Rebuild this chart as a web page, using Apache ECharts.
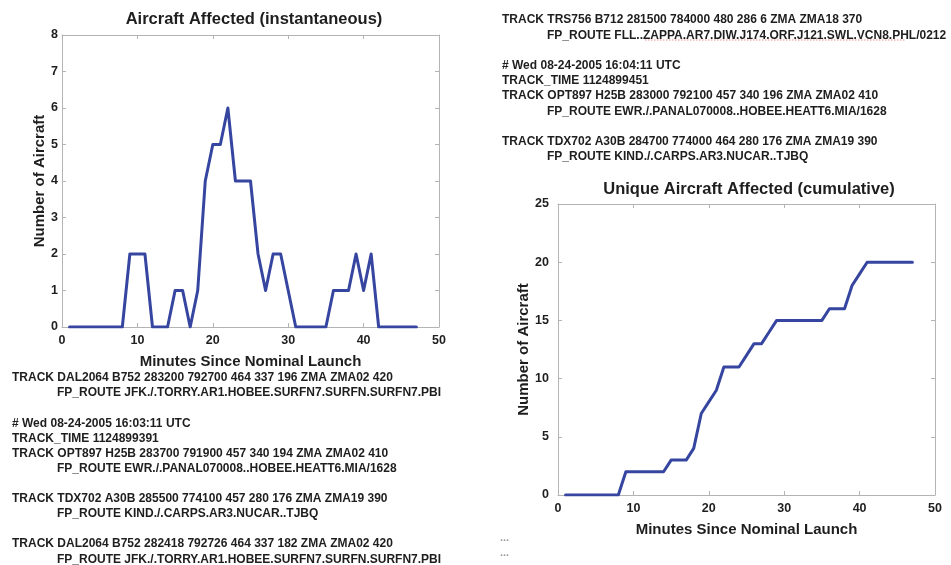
<!DOCTYPE html>
<html>
<head>
<meta charset="utf-8">
<title>Aircraft Affected</title>
<script src="https://cdn.jsdelivr.net/npm/echarts@6/dist/echarts.min.js"></script>
<style>
  html, body { margin: 0; padding: 0; background: #ffffff; }
  #chart { width: 951px; height: 565px; }
</style>
</head>
<body>
<div id="chart"></div>
<script>
// Minutes since nominal launch (sample times)
const minutes = [1, 2, 3, 4, 5, 6, 7, 8, 9, 10, 11, 12, 13, 14, 15, 16, 17, 18, 19, 20,
  21, 22, 23, 24, 25, 26, 27, 28, 29, 30, 31, 32, 33, 34, 35, 36, 37, 38, 39, 40,
  41, 42, 43, 44, 45, 46, 47];

// Aircraft inside the hazard area at each minute
const instantaneous = [0, 0, 0, 0, 0, 0, 0, 0, 2, 2, 2, 0, 0, 0, 1, 1, 0, 1, 4, 5,
  5, 6, 4, 4, 4, 2, 1, 2, 2, 1, 0, 0, 0, 0, 0, 1, 1, 1, 2, 1,
  2, 0, 0, 0, 0, 0, 0];

// Running count of distinct aircraft affected
const cumulative = [0, 0, 0, 0, 0, 0, 0, 0, 2, 2, 2, 2, 2, 2, 3, 3, 3, 4, 7, 8,
  9, 11, 11, 11, 12, 13, 13, 14, 15, 15, 15, 15, 15, 15, 15, 16, 16, 16, 18, 19,
  20, 20, 20, 20, 20, 20, 20];

// Axis tick values
const xTicks = [0, 10, 20, 30, 40, 50];
const yTicksInstant = [0, 1, 2, 3, 4, 5, 6, 7, 8];
const yTicksCumulative = [0, 5, 10, 15, 20, 25];

// Track log excerpts: [text, indented]
const logLeft = [
  ['TRACK DAL2064 B752 283200 792700 464 337 196 ZMA ZMA02 420', 0],
  ['FP_ROUTE JFK./.TORRY.AR1.HOBEE.SURFN7.SURFN.SURFN7.PBI', 1],
  null,
  ['# Wed 08-24-2005 16:03:11 UTC', 0],
  ['TRACK_TIME 1124899391', 0],
  ['TRACK OPT897 H25B 283700 791900 457 340 194 ZMA ZMA02 410', 0],
  ['FP_ROUTE EWR./.PANAL070008..HOBEE.HEATT6.MIA/1628', 1],
  null,
  ['TRACK TDX702 A30B 285500 774100 457 280 176 ZMA ZMA19 390', 0],
  ['FP_ROUTE KIND./.CARPS.AR3.NUCAR..TJBQ', 1],
  null,
  ['TRACK DAL2064 B752 282418 792726 464 337 182 ZMA ZMA02 420', 0],
  ['FP_ROUTE JFK./.TORRY.AR1.HOBEE.SURFN7.SURFN.SURFN7.PBI', 1]
];
const logRight = [
  ['TRACK TRS756 B712 281500 784000 480 286 6 ZMA ZMA18 370', 0],
  ['FP_ROUTE FLL..ZAPPA.AR7.DIW.J174.ORF.J121.SWL.VCN8.PHL/0212', 1],
  null,
  ['# Wed 08-24-2005 16:04:11 UTC', 0],
  ['TRACK_TIME 1124899451', 0],
  ['TRACK OPT897 H25B 283000 792100 457 340 196 ZMA ZMA02 410', 0],
  ['FP_ROUTE EWR./.PANAL070008..HOBEE.HEATT6.MIA/1628', 1],
  null,
  ['TRACK TDX702 A30B 284700 774000 464 280 176 ZMA ZMA19 390', 0],
  ['FP_ROUTE KIND./.CARPS.AR3.NUCAR..TJBQ', 1]
];

const FONT = 'Liberation Sans, Arial, Helvetica, sans-serif';
const LINE_COLOR = '#3646a0';
const BOX_COLOR = '#b4b4b4';
const TEXT_COLOR = '#1e1e1e';

function pairs(xs, ys) { return xs.map((x, i) => [x, ys[i]]); }

function logGraphics(lines, x0, indent, y0, step) {
  const out = [];
  lines.forEach((ln, i) => {
    if (!ln) return;
    out.push({
      type: 'text',
      silent: true,
      style: {
        text: ln[0],
        x: x0 + ln[1] * indent,
        y: y0 + i * step,
        font: 'bold 12px ' + FONT,
        fill: TEXT_COLOR,
        textVerticalAlign: 'middle',
        verticalAlign: 'middle'
      }
    });
  });
  return out;
}

function xAxisPair(gridIndex, labelMargin) {
  const base = {
    gridIndex: gridIndex,
    type: 'value',
    min: xTicks[0],
    max: xTicks[xTicks.length - 1],
    interval: xTicks[1] - xTicks[0],
    splitLine: { show: false },
    axisLine: { show: true, onZero: false, lineStyle: { color: BOX_COLOR, width: 1 } },
    axisTick: { show: true, inside: true, length: 4, lineStyle: { color: BOX_COLOR } }
  };
  return [
    Object.assign({}, base, {
      position: 'bottom',
      name: 'Minutes Since Nominal Launch',
      nameLocation: 'middle',
      nameGap: 27,
      nameTextStyle: { fontFamily: FONT, fontWeight: 'bold', fontSize: 15, color: TEXT_COLOR },
      axisLabel: { margin: labelMargin, fontFamily: FONT, fontWeight: 'bold', fontSize: 12.5, color: TEXT_COLOR }
    }),
    Object.assign({}, base, { position: 'top', axisLabel: { show: false } })
  ];
}

function yAxisPair(gridIndex, ticks, labelMargin, nameGap) {
  const base = {
    gridIndex: gridIndex,
    type: 'value',
    min: ticks[0],
    max: ticks[ticks.length - 1],
    interval: ticks[1] - ticks[0],
    splitLine: { show: false },
    axisLine: { show: true, onZero: false, lineStyle: { color: BOX_COLOR, width: 1 } },
    axisTick: { show: true, inside: true, length: 4, lineStyle: { color: BOX_COLOR } }
  };
  return [
    Object.assign({}, base, {
      position: 'left',
      name: 'Number of Aircraft',
      nameLocation: 'middle',
      nameGap: nameGap,
      nameTextStyle: { fontFamily: FONT, fontWeight: 'bold', fontSize: 15, color: TEXT_COLOR },
      axisLabel: { margin: labelMargin, fontFamily: FONT, fontWeight: 'bold', fontSize: 12.5, color: TEXT_COLOR }
    }),
    Object.assign({}, base, { position: 'right', axisLabel: { show: false } })
  ];
}

const chart = echarts.init(document.getElementById('chart'), null, { renderer: 'canvas' });

const graphics = []
  .concat(logGraphics(logLeft, 12, 45, 378, 15.1))
  .concat(logGraphics(logRight, 502, 45, 20, 15.2))
  .concat([
    // spell-check underline in the route string
    {
      type: 'line', silent: true,
      shape: { x1: 645, y1: 40, x2: 905, y2: 40 },
      style: { stroke: 'rgba(220,70,70,0.6)', lineWidth: 1, lineDash: [1.5, 1.5] }
    },
    {
      type: 'text', silent: true,
      style: { text: '...', x: 500, y: 538, font: 'bold 11px ' + FONT, fill: '#9a9a9a',
        textVerticalAlign: 'middle', verticalAlign: 'middle' }
    },
    {
      type: 'text', silent: true,
      style: { text: '...', x: 500, y: 553, font: 'bold 11px ' + FONT, fill: '#9a9a9a',
        textVerticalAlign: 'middle', verticalAlign: 'middle' }
    }
  ]);

chart.setOption({
  animation: false,
  backgroundColor: '#ffffff',
  title: [
    {
      text: 'Aircraft Affected (instantaneous)',
      left: 249, top: 6, textAlign: 'center',
      textStyle: { fontFamily: FONT, fontWeight: 'bold', fontSize: 16.5, color: TEXT_COLOR }
    },
    {
      text: 'Unique Aircraft Affected (cumulative)',
      left: 744, top: 176, textAlign: 'center',
      textStyle: { fontFamily: FONT, fontWeight: 'bold', fontSize: 16.5, color: TEXT_COLOR }
    }
  ],
  grid: [
    { left: 62, top: 35, width: 377, height: 292, show: false },
    { left: 558, top: 204, width: 377, height: 291, show: false }
  ],
  xAxis: xAxisPair(0, 7).concat(xAxisPair(1, 7)),
  yAxis: yAxisPair(0, yTicksInstant, 4, 14).concat(yAxisPair(1, yTicksCumulative, 9, 19)),
  series: [
    {
      type: 'line',
      xAxisIndex: 0, yAxisIndex: 0,
      data: pairs(minutes, instantaneous),
      showSymbol: false,
      lineStyle: { color: LINE_COLOR, width: 3, join: 'round', cap: 'round' },
      z: 3
    },
    {
      type: 'line',
      xAxisIndex: 2, yAxisIndex: 2,
      data: pairs(minutes, cumulative),
      showSymbol: false,
      lineStyle: { color: LINE_COLOR, width: 3, join: 'round', cap: 'round' },
      z: 3
    }
  ],
  graphic: graphics
});
</script>
</body>
</html>
